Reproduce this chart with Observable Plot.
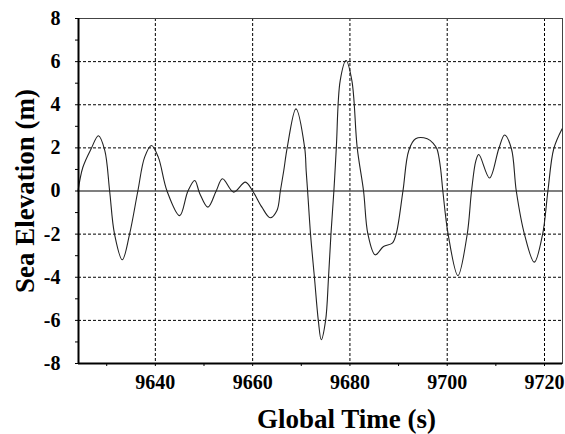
<!DOCTYPE html>
<html>
<head>
<meta charset="utf-8">
<script src="https://cdn.jsdelivr.net/npm/d3@7"></script>
<script src="https://cdn.jsdelivr.net/npm/@observablehq/plot@0.6"></script>
<style>
  html, body { margin: 0; padding: 0; background: #fff; }
  #chart svg, #chart svg text { font-family: "Liberation Serif", "Times New Roman", serif !important; font-weight: bold; }
</style>
</head>
<body>
<div id="chart"></div>
<script>
const times = [
  9624.1, 9625.1, 9626.8, 9628.3, 9629.6, 9630.6, 9631.6, 9633.2, 9634.7, 9636.4,
  9637.8, 9639.2, 9640.6, 9642.4, 9645.0, 9646.7, 9648.1, 9649.1, 9650.8, 9652.5,
  9653.8, 9656.1, 9658.5, 9660.0, 9661.9, 9663.6, 9665.0, 9665.7, 9666.4, 9667.1,
  9668.9, 9670.7, 9671.0, 9671.3, 9671.9, 9672.7, 9673.5, 9674.1, 9675.0, 9675.6,
  9676.1, 9676.7, 9677.2, 9678.0, 9679.2, 9680.4, 9681.5, 9682.8, 9683.7, 9685.2,
  9686.9, 9688.7, 9689.5, 9690.9, 9692.1, 9693.5, 9695.9, 9697.2, 9697.9, 9698.6,
  9699.1, 9700.2, 9702.2, 9704.1, 9705.0, 9705.9, 9706.5, 9708.7, 9710.6, 9711.8,
  9713.2, 9714.2, 9715.9, 9717.9, 9719.6, 9720.7, 9721.9, 9723.6
];
const elevation = [
  0, 1.1, 1.96, 2.56, 1.88, 0, -1.99, -3.19, -2.0, 0,
  1.57, 2.11, 1.57, 0, -1.14, 0, 0.49, -0.1, -0.75, 0,
  0.57, -0.05, 0.41, 0, -0.75, -1.24, -0.9, 0, 0.95, 2.0,
  3.81, 2.0, 0.95, 0, -2.0, -4.0, -6.0, -6.9, -6.0, -4.0,
  -2.0, 0, 2.0, 5.12, 6.05, 5.12, 2.0, 0, -2.0, -2.96,
  -2.57, -2.42, -2.0, 0, 1.88, 2.42, 2.42, 2.19, 1.95, 1.1,
  0, -2.02, -3.92, -2.02, 0, 1.41, 1.69, 0.6, 1.96, 2.6,
  1.96, 0, -2.02, -3.3, -2.02, 0, 1.96, 2.88
];
const xMajor = [9640, 9660, 9680, 9700, 9720];
const xMinor = [9630, 9650, 9670, 9690, 9710];
const yMajor = [-8, -6, -4, -2, 0, 2, 4, 6, 8];
const yMinor = [-7, -5, -3, -1, 1, 3, 5, 7];
const xDomain = [9624.2, 9723.7];
const yDomain = [-8, 8];
const xTitle = "Global Time (s)";
const yTitle = "Sea Elevation (m)";

const data = times.map((t, i) => ({t, v: elevation[i]}));
const font = "Liberation Serif";

const chart = Plot.plot({
  width: 565,
  height: 434,
  marginLeft: 78,
  marginRight: 3,
  marginTop: 18,
  marginBottom: 71,
  style: {background: "#fff", color: "#000"},
  x: {domain: xDomain},
  y: {domain: yDomain},
  marks: [
    Plot.gridY(yMajor.filter(d => d !== 0 && d !== -8 && d !== 8), {stroke: "#000", strokeOpacity: 1, strokeDasharray: "3,2"}),
    Plot.gridX(xMajor, {stroke: "#000", strokeOpacity: 1, strokeDasharray: "3,2"}),
    Plot.frame({stroke: "#444", strokeWidth: 1}),
    Plot.ruleY([0], {stroke: "#555", strokeWidth: 1.5}),
    Plot.line(data, {x: "t", y: "v", curve: "catmull-rom", stroke: "#222", strokeWidth: 1.1}),
    Plot.ruleY([yDomain[0]], {stroke: "#000", strokeWidth: 2}),
    Plot.ruleX([xDomain[0]], {stroke: "#000", strokeWidth: 2}),
    Plot.axisY(yMinor, {tickSize: 3, tickFormat: () => "", label: null}),
    Plot.axisY(yMajor, {tickSize: 3, tickPadding: 15, fontSize: 20, fontFamily: font, fontWeight: "bold", label: null, tickFormat: d => String(d)}),
    Plot.axisX(xMinor, {tickSize: 3, tickFormat: () => "", label: null}),
    Plot.axisX(xMajor, {tickSize: 3, tickPadding: 8, fontSize: 20, fontFamily: font, fontWeight: "bold", label: null, tickFormat: d => String(d)}),
    Plot.text([xTitle], {frameAnchor: "bottom", text: d => d, textAnchor: "middle", dx: 26, dy: 64, lineAnchor: "bottom", fontSize: 27, fontFamily: font, fontWeight: "bold", fill: "#000"}),
    Plot.text([yTitle], {frameAnchor: "left", text: d => d, textAnchor: "middle", rotate: -90, dx: -53, lineAnchor: "middle", fontSize: 27, fontFamily: font, fontWeight: "bold", fill: "#000"})
  ]
});
document.getElementById("chart").appendChild(chart);
</script>
</body>
</html>
